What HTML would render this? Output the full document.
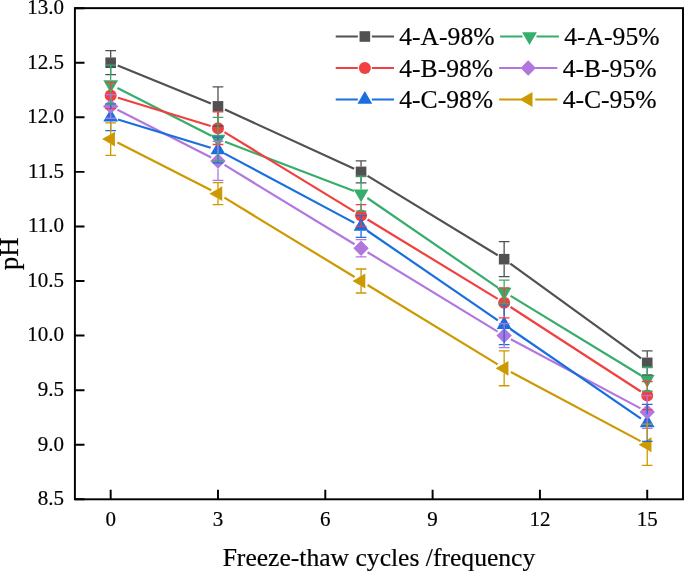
<!DOCTYPE html><html><head><meta charset="utf-8"><style>html,body{margin:0;padding:0;background:#fff;}svg{display:block;will-change:transform;}text{stroke:#000;stroke-width:0.2px;}</style></head><body>
<svg width="685" height="572" viewBox="0 0 685 572" style="font-family:&quot;Liberation Serif&quot;, serif">
<path d="M117.71 65.59L210.94 103.52M224.89 109.54L354.15 168.70M367.55 175.83L497.66 255.22M510.30 263.64L641.08 358.41" stroke="#515151" stroke-width="2.2" fill="none" stroke-linecap="butt"/>
<path d="M117.44 88.00L211.21 135.68M225.08 141.83L353.96 190.99M367.33 198.00L497.88 287.62M510.63 295.88L640.74 375.28" stroke="#37ad6b" stroke-width="2.2" fill="none" stroke-linecap="butt"/>
<path d="M117.94 97.68L210.71 125.99M224.47 132.17L354.58 211.57M367.55 219.48L497.66 298.88M510.52 306.97L640.85 391.48" stroke="#f14040" stroke-width="2.2" fill="none" stroke-linecap="butt"/>
<path d="M117.44 109.83L211.21 157.51M224.47 164.91L354.58 244.31M367.55 252.23L497.66 331.62M510.85 339.16L640.53 408.40" stroke="#b177de" stroke-width="2.2" fill="none" stroke-linecap="butt"/>
<path d="M117.94 119.51L210.71 147.82M224.69 153.62L354.36 222.86M367.33 230.74L497.88 320.37M510.41 328.97L640.96 418.60" stroke="#1a6fdf" stroke-width="2.2" fill="none" stroke-linecap="butt"/>
<path d="M117.44 142.57L211.21 190.25M224.47 197.65L354.58 277.05M367.55 284.97L497.66 364.37M510.85 371.91L640.53 441.15" stroke="#cc9900" stroke-width="2.2" fill="none" stroke-linecap="butt"/>
<rect x="105.37" y="57.42" width="10.6" height="10.6" fill="#515151"/>
<rect x="212.68" y="101.08" width="10.6" height="10.6" fill="#515151"/>
<rect x="355.76" y="166.57" width="10.6" height="10.6" fill="#515151"/>
<rect x="498.85" y="253.88" width="10.6" height="10.6" fill="#515151"/>
<rect x="641.93" y="357.57" width="10.6" height="10.6" fill="#515151"/>
<circle cx="110.67" cy="95.47" r="6.0" fill="#f14040"/>
<circle cx="217.98" cy="128.21" r="6.0" fill="#f14040"/>
<circle cx="361.06" cy="215.52" r="6.0" fill="#f14040"/>
<circle cx="504.15" cy="302.84" r="6.0" fill="#f14040"/>
<circle cx="647.23" cy="395.61" r="6.0" fill="#f14040"/>
<polygon points="110.67,108.74 118.08,121.57 103.27,121.57" fill="#1a6fdf"/>
<polygon points="217.98,141.49 225.39,154.31 210.58,154.31" fill="#1a6fdf"/>
<polygon points="361.06,217.89 368.47,230.71 353.66,230.71" fill="#1a6fdf"/>
<polygon points="504.15,316.12 511.55,328.94 496.74,328.94" fill="#1a6fdf"/>
<polygon points="647.23,414.35 654.63,427.17 639.82,427.17" fill="#1a6fdf"/>
<polygon points="110.67,93.10 103.27,80.28 118.08,80.28" fill="#37ad6b"/>
<polygon points="217.98,147.67 210.58,134.85 225.39,134.85" fill="#37ad6b"/>
<polygon points="361.06,202.25 353.66,189.42 368.47,189.42" fill="#37ad6b"/>
<polygon points="504.15,300.48 496.74,287.65 511.55,287.65" fill="#37ad6b"/>
<polygon points="647.23,387.79 639.82,374.97 654.63,374.97" fill="#37ad6b"/>
<path d="M110.67 98.68L118.37 106.38L110.67 114.08L102.97 106.38Z" fill="#b177de"/>
<path d="M217.98 153.25L225.68 160.95L217.98 168.65L210.28 160.95Z" fill="#b177de"/>
<path d="M361.06 240.57L368.76 248.27L361.06 255.97L353.36 248.27Z" fill="#b177de"/>
<path d="M504.15 327.88L511.85 335.58L504.15 343.28L496.45 335.58Z" fill="#b177de"/>
<path d="M647.23 404.28L654.93 411.98L647.23 419.68L639.53 411.98Z" fill="#b177de"/>
<polygon points="102.12,139.12 114.95,131.72 114.95,146.53" fill="#cc9900"/>
<polygon points="209.43,193.70 222.26,186.29 222.26,201.10" fill="#cc9900"/>
<polygon points="352.51,281.01 365.34,273.61 365.34,288.42" fill="#cc9900"/>
<polygon points="495.60,368.33 508.42,360.92 508.42,375.73" fill="#cc9900"/>
<polygon points="638.68,444.73 651.50,437.32 651.50,452.13" fill="#cc9900"/>
<path d="M110.67 50.72V57.42M110.67 68.02V74.72M105.32 50.72h10.7M105.32 74.72h10.7M217.98 86.78V101.08M217.98 111.68V125.98M212.63 86.78h10.7M212.63 125.98h10.7M361.06 160.87V166.57M361.06 177.17V182.87M355.71 160.87h10.7M355.71 182.87h10.7M504.15 241.68V253.88M504.15 264.48V276.68M498.80 241.68h10.7M498.80 276.68h10.7M647.23 350.87V357.57M647.23 368.17V374.87M641.88 350.87h10.7M641.88 374.87h10.7" stroke="#515151" stroke-width="1.3" fill="none"/>
<path d="M110.67 82.37V89.47M110.67 101.47V108.57M105.32 82.37h10.7M105.32 108.57h10.7M217.98 111.91V122.21M217.98 134.21V144.51M212.63 111.91h10.7M212.63 144.51h10.7M361.06 204.62V209.52M361.06 221.52V226.42M355.71 204.62h10.7M355.71 226.42h10.7M504.15 287.84V296.84M504.15 308.84V317.84M498.80 287.84h10.7M498.80 317.84h10.7M647.23 381.51V389.61M647.23 401.61V409.71M641.88 381.51h10.7M641.88 409.71h10.7" stroke="#f14040" stroke-width="1.3" fill="none"/>
<path d="M110.67 103.99V108.74M110.67 121.57V130.59M105.32 103.99h10.7M105.32 130.59h10.7M217.98 137.14V141.49M217.98 154.31V162.94M212.63 137.14h10.7M212.63 162.94h10.7M361.06 215.54V217.89M361.06 230.71V237.34M355.71 215.54h10.7M355.71 237.34h10.7M504.15 304.67V316.12M504.15 328.94V344.67M498.80 304.67h10.7M498.80 344.67h10.7M647.23 404.40V414.35M647.23 427.17V441.40M641.88 404.40h10.7M641.88 441.40h10.7" stroke="#1a6fdf" stroke-width="1.3" fill="none"/>
<path d="M110.67 65.05V80.28M110.67 93.10V104.05M105.32 65.05h10.7M105.32 104.05h10.7M217.98 117.42V134.85M217.98 147.67V160.82M212.63 117.42h10.7M212.63 160.82h10.7M361.06 176.20V189.42M361.06 202.25V211.20M355.71 176.20h10.7M355.71 211.20h10.7M504.15 280.03V287.65M504.15 300.48V303.83M498.80 280.03h10.7M498.80 303.83h10.7M647.23 367.24V374.97M647.23 387.79V391.24M641.88 367.24h10.7M641.88 391.24h10.7" stroke="#37ad6b" stroke-width="1.3" fill="none"/>
<path d="M110.67 94.53V98.68M110.67 114.08V118.23M105.32 94.53h10.7M105.32 118.23h10.7M217.98 141.45V153.25M217.98 168.65V180.45M212.63 141.45h10.7M212.63 180.45h10.7M361.06 239.57V240.57M361.06 255.97V256.97M355.71 239.57h10.7M355.71 256.97h10.7M504.15 323.58V327.88M504.15 343.28V347.58M498.80 323.58h10.7M498.80 347.58h10.7M647.23 395.58V404.28M647.23 419.68V428.38M641.88 395.58h10.7M641.88 428.38h10.7" stroke="#b177de" stroke-width="1.3" fill="none"/>
<path d="M110.67 122.82V134.19M110.67 144.06V155.42M105.32 122.82h10.7M105.32 155.42h10.7M217.98 182.70V188.76M217.98 198.63V204.70M212.63 182.70h10.7M212.63 204.70h10.7M361.06 269.01V276.08M361.06 285.94V293.01M355.71 269.01h10.7M355.71 293.01h10.7M504.15 350.93V363.39M504.15 373.26V385.73M498.80 350.93h10.7M498.80 385.73h10.7M647.23 424.03V439.79M647.23 449.66V465.43M641.88 424.03h10.7M641.88 465.43h10.7" stroke="#cc9900" stroke-width="1.3" fill="none"/>
<rect x="74.9" y="8.15" width="608.1" height="491.15000000000003" fill="none" stroke="#000" stroke-width="1.95"/>
<path d="M74.9 499.30h9.6M74.9 444.73h9.6M74.9 390.16h9.6M74.9 335.58h9.6M74.9 281.01h9.6M74.9 226.44h9.6M74.9 171.87h9.6M74.9 117.29h9.6M74.9 62.72h9.6M74.9 8.15h9.6M110.67 499.3v-9.6M217.98 499.3v-9.6M325.29 499.3v-9.6M432.61 499.3v-9.6M539.92 499.3v-9.6M647.23 499.3v-9.6" stroke="#000" stroke-width="1.95" fill="none"/>
<text x="64.0" y="505.20" font-size="21" text-anchor="end">8.5</text>
<text x="64.0" y="450.63" font-size="21" text-anchor="end">9.0</text>
<text x="64.0" y="396.06" font-size="21" text-anchor="end">9.5</text>
<text x="64.0" y="341.48" font-size="21" text-anchor="end">10.0</text>
<text x="64.0" y="286.91" font-size="21" text-anchor="end">10.5</text>
<text x="64.0" y="232.34" font-size="21" text-anchor="end">11.0</text>
<text x="64.0" y="177.77" font-size="21" text-anchor="end">11.5</text>
<text x="64.0" y="123.19" font-size="21" text-anchor="end">12.0</text>
<text x="64.0" y="68.62" font-size="21" text-anchor="end">12.5</text>
<text x="64.0" y="14.05" font-size="21" text-anchor="end">13.0</text>
<text x="110.67" y="526" font-size="21" text-anchor="middle">0</text>
<text x="217.98" y="526" font-size="21" text-anchor="middle">3</text>
<text x="325.29" y="526" font-size="21" text-anchor="middle">6</text>
<text x="432.61" y="526" font-size="21" text-anchor="middle">9</text>
<text x="539.92" y="526" font-size="21" text-anchor="middle">12</text>
<text x="647.23" y="526" font-size="21" text-anchor="middle">15</text>
<text x="378.95" y="566" font-size="25.6" text-anchor="middle">Freeze-thaw cycles /frequency</text>
<text transform="translate(17.5 253.72) rotate(-90)" font-size="26.6" text-anchor="middle">pH</text>
<path d="M335.7 36.5H357.85M371.85 36.5H394.0" stroke="#515151" stroke-width="1.9" fill="none"/>
<rect x="359.55" y="31.20" width="10.6" height="10.6" fill="#515151"/>
<text x="399.30" y="45.10" font-size="25.6">4-A-98%</text>
<path d="M500.1 36.5H522.50M536.50 36.5H558.9" stroke="#37ad6b" stroke-width="1.9" fill="none"/>
<polygon points="529.50,45.05 522.10,32.23 536.90,32.22" fill="#37ad6b"/>
<text x="564.30" y="45.10" font-size="25.6">4-A-95%</text>
<path d="M335.7 68.0H357.85M371.85 68.0H394.0" stroke="#f14040" stroke-width="1.9" fill="none"/>
<circle cx="364.85" cy="68.00" r="6.0" fill="#f14040"/>
<text x="399.30" y="76.60" font-size="25.6">4-B-98%</text>
<path d="M499.1 68.0H521.20M535.20 68.0H557.3" stroke="#b177de" stroke-width="1.9" fill="none"/>
<path d="M528.20 60.30L535.90 68.00L528.20 75.70L520.50 68.00Z" fill="#b177de"/>
<text x="562.70" y="76.60" font-size="25.6">4-B-95%</text>
<path d="M335.7 99.5H357.85M371.85 99.5H394.0" stroke="#1a6fdf" stroke-width="1.9" fill="none"/>
<polygon points="364.85,90.95 372.25,103.78 357.45,103.78" fill="#1a6fdf"/>
<text x="399.30" y="108.10" font-size="25.6">4-C-98%</text>
<path d="M499.1 99.5H521.20M535.20 99.5H557.3" stroke="#cc9900" stroke-width="1.9" fill="none"/>
<polygon points="519.65,99.50 532.48,92.10 532.48,106.90" fill="#cc9900"/>
<text x="562.70" y="108.10" font-size="25.6">4-C-95%</text>
</svg></body></html>
